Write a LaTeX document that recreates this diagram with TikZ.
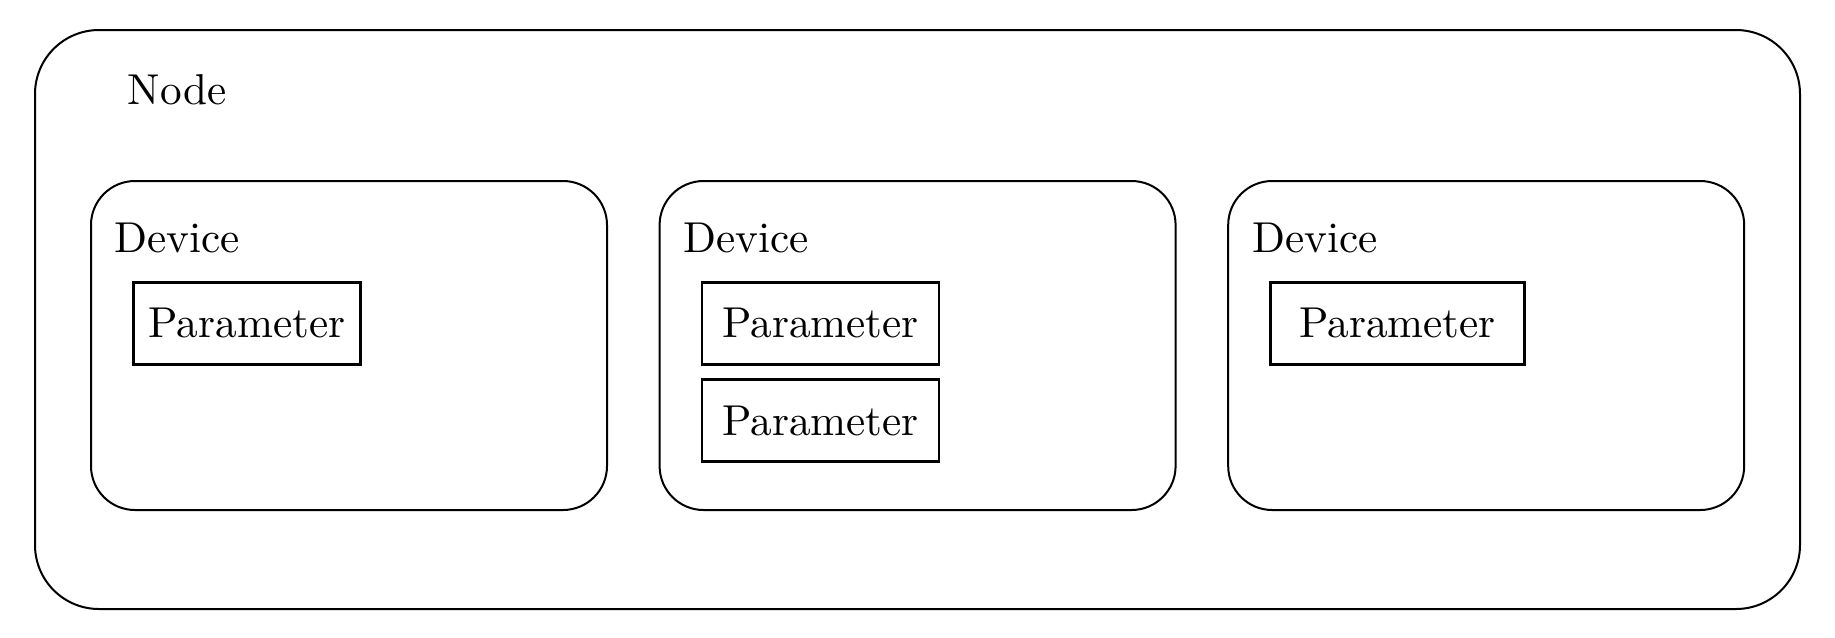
\documentclass[tikz,border=0pt]{standalone}
\usepackage{tikz}
\usetikzlibrary{positioning}
\tikzset{
    every node/.style={font=\fontsize{10.8pt}{13pt}\selectfont}, % same text size everywhere
    }

\begin{document}
\begin{tikzpicture}[nodebox/.style={draw, line width=0.5pt, rounded corners=16pt, minimum width=441.25pt, minimum height=144.75pt}, devicebox/.style={draw, line width=0.5pt, rounded corners=11pt, minimum width=129pt, minimum height=82.25pt}, parambox/.style={draw, line width=0.7pt, minimum height=20.5pt, inner sep=0pt}, boxlabel/.style={anchor=base west, inner sep=0pt}]
\useasboundingbox (0,0) rectangle (458.75pt,159.25pt);
\node[nodebox] (node) at (229.375pt,79.375pt) {};
\node[devicebox] (dev1) at (87.25pt,72.875pt) {};
\node[devicebox, right=12.65pt of dev1] (dev2) {};
\node[devicebox, right=12.65pt of dev2] (dev3) {};

\node[boxlabel] (nodetext) at ([shift={(23.25pt,-18.75pt)}]node.north west) {Node};
\node[boxlabel] (devtext1) at ([shift={(6pt,-18pt)}]dev1.north west) {Device};
\node[boxlabel] (devtext2) at ([shift={(6pt,-18pt)}]dev2.north west) {Device};
\node[boxlabel] (devtext3) at ([shift={(6pt,-18pt)}]dev3.north west) {Device};

\node[parambox, minimum width=56.75pt, below right=25.25pt and 10.5pt of dev1.north west] (p1) {Parameter};
\node[parambox, minimum width=59.25pt, below right=25.25pt and 10.5pt of dev2.north west] (p2) {Parameter};
\node[parambox, minimum width=59.25pt, below=3.1pt of p2] (p3) {Parameter};
\node[parambox, minimum width=63.5pt, below right=25.25pt and 10.5pt of dev3.north west] (p4) {Parameter};
\end{tikzpicture}
\end{document}
